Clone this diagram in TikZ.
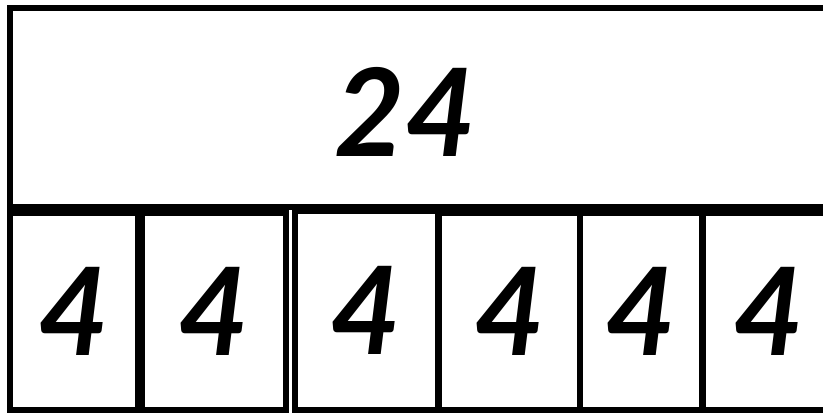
\documentclass[tikz,border=0pt]{standalone}
\usepackage{fontspec}
\setmainfont{Lato}
\begin{document}
\begin{tikzpicture}[x=1pt,y=-1pt,
  cellbox/.style={draw=black,line width=5.5pt,fill=white,inner sep=0pt},
  digit/.style={font=\fontsize{122}{122}\selectfont\bfseries\itshape,inner sep=0pt}]
\useasboundingbox (0,0) rectangle (823,413);
\clip (0,0) rectangle (823,413);
\fill[white] (0,0) rectangle (823,413);
% top box
\node[cellbox,minimum width=820pt,minimum height=199pt] (top) at (420,107.5) {};
\node[digit] (t24) at (405,112) {24};
% bottom cells
\node[cellbox,minimum width=128pt,minimum height=197pt] (c1) at (74,311.5) {};
\node[cellbox,minimum width=144pt,minimum height=197pt] (c2) at (214,311.5) {};
\node[cellbox,minimum width=142.5pt,minimum height=199pt] (c3) at (366,310.5) {};
\node[cellbox,minimum width=140pt,minimum height=197pt] (c4) at (509.5,311.5) {};
\node[cellbox,minimum width=121.5pt,minimum height=197pt] (c5) at (641.25,311.5) {};
\node[cellbox,minimum width=132pt,minimum height=197pt] (c6) at (769,311.5) {};
\node[digit] (d1) at (c1) {4};
\node[digit] (d2) at (c2) {4};
\node[digit] (d3) at (c3) {4};
\node[digit] (d4) at (c4) {4};
\node[digit] (d5) at (c5) {4};
\node[digit] (d6) at (c6) {4};
\end{tikzpicture}
\end{document}
